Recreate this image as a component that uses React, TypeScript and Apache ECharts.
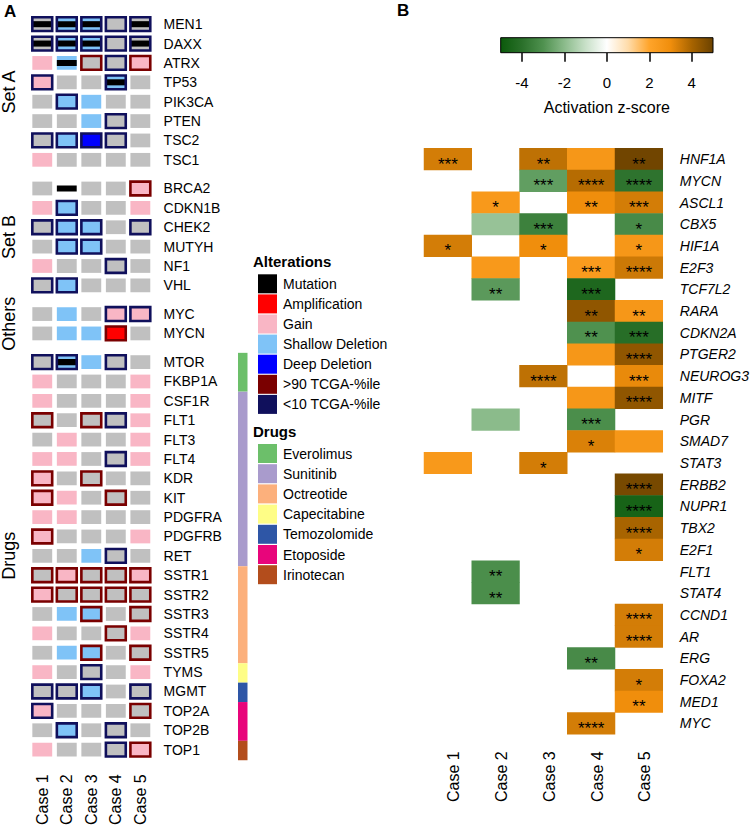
import React, { useEffect, useRef } from 'react';
import * as echarts from 'echarts';

// ---------- Panel A data ----------
const cases = ['Case 1', 'Case 2', 'Case 3', 'Case 4', 'Case 5'];

// codes: fill letter (G gray/no alteration, P gain, L shallow del, D deep del, A amplification, W none)
// + 'h' (>90 TCGA-%ile border) or 'l' (<10 TCGA-%ile border) + 'm' (mutation)
const setAGenes = ['MEN1', 'DAXX', 'ATRX', 'TP53', 'PIK3CA', 'PTEN', 'TSC2', 'TSC1'];
const setACodes = [
  ['Glm', 'Llm', 'Llm', 'Gl', 'Glm'],
  ['Glm', 'Llm', 'Llm', 'Gl', 'Glm'],
  ['P', 'Lm', 'Gh', 'Gl', 'Ph'],
  ['Pl', 'G', 'G', 'Llm', 'G'],
  ['G', 'Ll', 'L', 'G', 'G'],
  ['G', 'G', 'L', 'Gl', 'G'],
  ['Gl', 'Ll', 'Dl', 'Gl', 'G'],
  ['P', 'G', 'G', 'G', 'G'],
];
const setBGenes = ['BRCA2', 'CDKN1B', 'CHEK2', 'MUTYH', 'NF1', 'VHL'];
const setBCodes = [
  ['G', 'Wm', 'G', 'G', 'Ph'],
  ['P', 'Ll', 'G', 'G', 'P'],
  ['Gl', 'Ll', 'Ll', 'G', 'Gl'],
  ['G', 'Ll', 'Ll', 'G', 'G'],
  ['P', 'G', 'G', 'Gl', 'G'],
  ['Gl', 'Ll', 'G', 'G', 'G'],
];
const otherGenes = ['MYC', 'MYCN'];
const otherCodes = [
  ['G', 'L', 'G', 'Pl', 'Pl'],
  ['G', 'L', 'L', 'Ah', 'G'],
];
const drugGenes = ['MTOR', 'FKBP1A', 'CSF1R', 'FLT1', 'FLT3', 'FLT4', 'KDR', 'KIT', 'PDGFRA', 'PDGFRB', 'RET',
  'SSTR1', 'SSTR2', 'SSTR3', 'SSTR4', 'SSTR5', 'TYMS', 'MGMT', 'TOP2A', 'TOP2B', 'TOP1'];
const drugCodes = [
  ['Gl', 'Llm', 'L', 'Gl', 'G'],
  ['P', 'G', 'G', 'G', 'P'],
  ['P', 'G', 'G', 'G', 'P'],
  ['Gh', 'G', 'Gh', 'Gl', 'P'],
  ['G', 'P', 'G', 'G', 'P'],
  ['P', 'P', 'G', 'Gl', 'P'],
  ['Ph', 'G', 'Gh', 'G', 'G'],
  ['Ph', 'P', 'G', 'Gh', 'G'],
  ['P', 'P', 'G', 'G', 'G'],
  ['Ph', 'G', 'G', 'G', 'P'],
  ['G', 'G', 'L', 'Gl', 'G'],
  ['Gh', 'Ph', 'Gh', 'Gh', 'Ph'],
  ['Ph', 'Gh', 'Gh', 'Gh', 'Gh'],
  ['G', 'L', 'Lh', 'G', 'Gh'],
  ['P', 'G', 'G', 'Gh', 'P'],
  ['G', 'L', 'Lh', 'G', 'Gh'],
  ['P', 'G', 'Gl', 'G', 'P'],
  ['Gl', 'Gl', 'Ll', 'G', 'Gl'],
  ['Pl', 'G', 'G', 'G', 'Gh'],
  ['G', 'Ll', 'G', 'Gl', 'G'],
  ['P', 'G', 'G', 'Gl', 'Ph'],
];
const drugOfGene = ['Everolimus', 'Everolimus', 'Sunitinib', 'Sunitinib', 'Sunitinib', 'Sunitinib', 'Sunitinib',
  'Sunitinib', 'Sunitinib', 'Sunitinib', 'Sunitinib', 'Octreotide', 'Octreotide', 'Octreotide', 'Octreotide',
  'Octreotide', 'Capecitabine', 'Temozolomide', 'Etoposide', 'Etoposide', 'Irinotecan'];

const groupNames = ['Set A', 'Set B', 'Others', 'Drugs'];
const groupGenes = [setAGenes, setBGenes, otherGenes, drugGenes];
const groupCodes = [setACodes, setBCodes, otherCodes, drugCodes];

const alterationNames = ['Mutation', 'Amplification', 'Gain', 'Shallow Deletion', 'Deep Deletion', '>90 TCGA-%ile', '<10 TCGA-%ile'];
const alterationColors = ['#000000', '#ff0000', '#f9b6c5', '#7fc3f7', '#0000ff', '#7a0000', '#10105c'];
const noAlterationColor = '#c0c0c0';

const drugNames = ['Everolimus', 'Sunitinib', 'Octreotide', 'Capecitabine', 'Temozolomide', 'Etoposide', 'Irinotecan'];
const drugColors = ['#6cbf6a', '#a99bcc', '#fcb07c', '#fefd86', '#2e56a6', '#e8057b', '#b34d1c'];

// ---------- Panel B data ----------
const genesB = ['HNF1A', 'MYCN', 'ASCL1', 'CBX5', 'HIF1A', 'E2F3', 'TCF7L2', 'RARA', 'CDKN2A', 'PTGER2', 'NEUROG3',
  'MITF', 'PGR', 'SMAD7', 'STAT3', 'ERBB2', 'NUPR1', 'TBX2', 'E2F1', 'FLT1', 'STAT4', 'CCND1', 'AR', 'ERG', 'FOXA2',
  'MED1', 'MYC'];
const n = null;
const zCase1 = [3.4, n, n, n, 3.4, n, n, n, n, n, n, n, n, n, 2.5, n, n, n, n, n, n, n, n, n, n, n, n];
const zCase2 = [n, n, 2.5, -1.8, n, 2.5, -2.8, n, n, n, n, n, -2.0, n, n, n, n, n, n, -3.1, -3.1, n, n, n, n, n, n];
const zCase3 = [3.7, -2.7, n, -3.5, 3.0, n, n, n, n, n, 3.7, n, n, n, 3.4, n, n, n, n, n, n, n, n, n, n, n, n];
const zCase4 = [2.6, 3.8, 3.0, n, n, 2.4, -4.4, 4.4, -3.0, 2.6, n, 2.6, -3.1, 3.3, n, n, n, n, n, n, n, n, n, -3.2, n, n, 3.4];
const zCase5 = [4.9, -3.9, 3.4, -3.2, 2.6, 3.5, n, 2.6, -4.1, 4.4, 3.1, 4.4, n, 2.6, n, 4.8, -4.6, 4.0, 3.4, n, n, 3.4, 3.4, n, 3.4, 3.0, n];
const s = '';
const starsCase1 = ['***', s, s, s, '*', s, s, s, s, s, s, s, s, s, s, s, s, s, s, s, s, s, s, s, s, s, s];
const starsCase2 = [s, s, '*', s, s, s, '**', s, s, s, s, s, s, s, s, s, s, s, s, '**', '**', s, s, s, s, s, s];
const starsCase3 = ['**', '***', s, '***', '*', s, s, s, s, s, '****', s, s, s, '*', s, s, s, s, s, s, s, s, s, s, s, s];
const starsCase4 = [s, '****', '**', s, s, '***', '***', '**', '**', s, s, s, '***', '*', s, s, s, s, s, s, s, s, s, '**', s, s, '****'];
const starsCase5 = ['**', '****', '***', '*', '*', '****', s, '**', '***', '****', '***', '****', s, s, s, '****', '****',
  '****', '*', s, s, '****', '****', s, '*', '**', s];
const zByCase = [zCase1, zCase2, zCase3, zCase4, zCase5];
const starsByCase = [starsCase1, starsCase2, starsCase3, starsCase4, starsCase5];

const zMin = -5;
const zMax = 5;
const zColors = ['#0b5a0b', '#2a702a', '#4f914f', '#8bbb8b', '#c8e0c8', '#ffffff', '#ffdcaa', '#ffa42a', '#f08e0c', '#a86400', '#6b4200'];
const zTicks = [-4, -2, 0, 2, 4];

// ---------- derived structures ----------
const GAP = 0.48;
const rowPos: number[] = [];
const rowNames: string[] = [];
const groupCenters: number[] = [];
type Cell = { c: number; y: number; fill: string; border: string; mut: boolean };
const cellsA: Cell[] = [];
{
  let idx = 0;
  groupGenes.forEach((genes, gi) => {
    const first = idx + gi * GAP;
    genes.forEach((g, k) => {
      const pos = idx + gi * GAP;
      rowPos.push(pos);
      rowNames.push(g);
      groupCodes[gi][k].forEach((t, c) => {
        cellsA.push({
          c,
          y: pos,
          fill: t[0],
          border: t.includes('h') ? 'h' : t.includes('l') ? 'l' : '',
          mut: t.includes('m'),
        });
      });
      idx++;
    });
    const last = idx - 1 + gi * GAP;
    groupCenters.push((first + last) / 2);
  });
}
const drugRowStart = setAGenes.length + setBGenes.length + otherGenes.length;
const drugSegments: number[][] = [];
drugNames.forEach((d, di) => {
  const ks = drugOfGene.map((x, k) => (x === d ? k : -1)).filter((k) => k >= 0);
  if (ks.length) drugSegments.push([0, rowPos[drugRowStart + ks[0]], rowPos[drugRowStart + ks[ks.length - 1]], di]);
});
const yMinA = -0.5;
const yMaxA = rowPos[rowPos.length - 1] + 0.5;

const FILL: Record<string, string> = {
  G: noAlterationColor,
  P: alterationColors[2],
  L: alterationColors[3],
  D: alterationColors[4],
  A: alterationColors[1],
};

const heatData: any[] = [];
zByCase.forEach((arr, c) =>
  arr.forEach((z, r) => {
    if (z !== null) heatData.push([c, r, z, starsByCase[c][r]]);
  })
);

const labelAt = (v: number, positions: number[], names: string[]) => {
  const i = positions.findIndex((p) => Math.abs(p - v) < 1e-6);
  return i >= 0 ? names[i] : '';
};

const FONT = '"Liberation Sans", Arial, Helvetica, sans-serif';

export default function App() {
  const ref = useRef<HTMLDivElement>(null);
  useEffect(() => {
    if (!ref.current) return;
    const chart = echarts.init(ref.current, undefined, { renderer: 'svg' });

    const renderCell = (params: any, api: any) => {
      const cell = cellsA[params.dataIndex];
      const p = api.coord([api.value(0), api.value(1)]);
      const sz = api.size([1, 1]);
      const w = sz[0] * 0.81;
      const h = sz[1] * 0.71;
      const x = p[0] - w / 2;
      const y = p[1] - h / 2;
      const ch: any[] = [];
      if (cell.fill !== 'W') ch.push({ type: 'rect', shape: { x, y, width: w, height: h }, style: { fill: FILL[cell.fill] } });
      if (cell.mut) {
        const mh = h * 0.44;
        ch.push({ type: 'rect', shape: { x, y: p[1] - mh / 2, width: w, height: mh }, style: { fill: alterationColors[0] } });
      }
      if (cell.border)
        ch.push({
          type: 'rect',
          shape: { x, y, width: w, height: h },
          style: { fill: 'none', stroke: cell.border === 'h' ? alterationColors[5] : alterationColors[6], lineWidth: 2.6 },
        });
      return { type: 'group', children: ch };
    };

    const renderDrug = (params: any, api: any) => {
      const a = api.coord([0, api.value(1) - 0.5]);
      const b = api.coord([1, api.value(2) + 0.5]);
      return {
        type: 'rect',
        shape: { x: a[0], y: Math.min(a[1], b[1]), width: b[0] - a[0], height: Math.abs(b[1] - a[1]) },
        style: { fill: drugColors[api.value(3)] },
      };
    };

    const gradStops = zColors.map((c, i) => ({ offset: i / (zColors.length - 1), color: c }));
    const renderBar = (params: any, api: any) => {
      const a = api.coord([api.value(0), 1]);
      const b = api.coord([api.value(1), 0]);
      return {
        type: 'rect',
        shape: { x: a[0], y: a[1], width: b[0] - a[0], height: b[1] - a[1] },
        style: { fill: new echarts.graphic.LinearGradient(0, 0, 1, 0, gradStops), stroke: '#000', lineWidth: 1 },
      };
    };

    const legendGraphics: any[] = [];
    const legX = 258;
    legendGraphics.push({ type: 'text', x: 253, y: 261, style: { text: 'Alterations', font: `bold 15px ${FONT}`, fill: '#000', verticalAlign: 'middle' } });
    alterationNames.forEach((nm, i) => {
      const top = 274.3 + i * 20.1;
      legendGraphics.push({ type: 'rect', shape: { x: legX, y: top, width: 19, height: 19 }, style: { fill: alterationColors[i] } });
      legendGraphics.push({ type: 'text', x: 283, y: top + 9.5, style: { text: nm, font: `14px ${FONT}`, fill: '#000', verticalAlign: 'middle' } });
    });
    legendGraphics.push({ type: 'text', x: 253, y: 431.7, style: { text: 'Drugs', font: `bold 15px ${FONT}`, fill: '#000', verticalAlign: 'middle' } });
    drugNames.forEach((nm, i) => {
      const top = 444 + i * 20.2;
      legendGraphics.push({ type: 'rect', shape: { x: legX, y: top, width: 19, height: 19 }, style: { fill: drugColors[i] } });
      legendGraphics.push({ type: 'text', x: 283, y: top + 9.5, style: { text: nm, font: `14px ${FONT}`, fill: '#000', verticalAlign: 'middle' } });
    });
    legendGraphics.push({ type: 'text', x: 4, y: 3, style: { text: 'A', font: `bold 17px ${FONT}`, fill: '#000' } });
    legendGraphics.push({ type: 'text', x: 397, y: 2, style: { text: 'B', font: `bold 17px ${FONT}`, fill: '#000' } });

    const hidden = { show: false };
    const option: any = {
      animation: false,
      backgroundColor: '#ffffff',
      textStyle: { fontFamily: FONT },
      grid: [
        { left: 27.3, top: 14.5, width: 125.3, height: (yMaxA - yMinA) * 19.4 },
        { left: 238, top: 14.5, width: 9.5, height: (yMaxA - yMinA) * 19.4 },
        { left: 424, top: 148.3, width: 240, height: 586 },
        { left: 500.7, top: 37.7, width: 212.3, height: 15 },
      ],
      xAxis: [
        {
          gridIndex: 0, type: 'category', data: cases, position: 'bottom',
          axisLine: hidden, axisTick: hidden, splitLine: hidden,
          axisLabel: { rotate: 90, fontSize: 16, color: '#000', margin: 15, interval: 0 },
        },
        { gridIndex: 1, type: 'value', min: 0, max: 1, show: false },
        {
          gridIndex: 2, type: 'category', data: cases, position: 'bottom',
          axisLine: hidden, axisTick: hidden, splitLine: hidden,
          axisLabel: {
            rotate: 90, fontSize: 16, color: '#000', margin: 17, interval: 0,
            verticalAlign: 'top', lineHeight: 12,
          },
        },
        {
          gridIndex: 3, type: 'value', min: zMin, max: zMax, position: 'bottom',
          axisLine: hidden, splitLine: hidden,
          axisTick: { show: true, customValues: zTicks, length: 9, lineStyle: { color: '#000', width: 1.5 } },
          axisLabel: { customValues: zTicks, fontSize: 15, color: '#000', margin: 22 },
          name: 'Activation z-score', nameLocation: 'middle', nameGap: 47,
          nameTextStyle: { fontSize: 16, color: '#000' },
        },
      ],
      yAxis: [
        {
          gridIndex: 0, type: 'value', min: yMinA, max: yMaxA, inverse: true, position: 'right',
          axisLine: hidden, axisTick: hidden, splitLine: hidden,
          axisLabel: {
            customValues: rowPos, fontSize: 14, color: '#000', margin: 11,
            formatter: (v: number) => labelAt(v, rowPos, rowNames),
          },
        },
        {
          gridIndex: 0, type: 'value', min: yMinA, max: yMaxA, inverse: true, position: 'left',
          axisLine: hidden, axisTick: hidden, splitLine: hidden,
          axisLabel: {
            customValues: groupCenters, fontSize: 18, color: '#000', margin: 12, rotate: 90,
            formatter: (v: number) => labelAt(v, groupCenters, groupNames),
          },
        },
        { gridIndex: 1, type: 'value', min: yMinA, max: yMaxA, inverse: true, show: false },
        {
          gridIndex: 2, type: 'category', data: genesB, inverse: true, position: 'right',
          axisLine: hidden, axisTick: hidden, splitLine: hidden,
          axisLabel: { fontSize: 14, fontStyle: 'italic', color: '#000', margin: 17, interval: 0 },
        },
        { gridIndex: 3, type: 'value', min: 0, max: 1, show: false },
      ],
      visualMap: {
        type: 'continuous', show: false, min: zMin, max: zMax, dimension: 2, seriesIndex: 2,
        inRange: { color: zColors },
      },
      series: [
        {
          type: 'custom', xAxisIndex: 0, yAxisIndex: 0, renderItem: renderCell,
          data: cellsA.map((c) => [c.c, c.y]), encode: { x: 0, y: 1 }, silent: true,
        },
        {
          type: 'custom', xAxisIndex: 1, yAxisIndex: 2, renderItem: renderDrug,
          data: drugSegments, encode: { x: 0, y: [1, 2] }, silent: true,
        },
        {
          type: 'heatmap', xAxisIndex: 2, yAxisIndex: 3, data: heatData,
          label: {
            show: true, fontSize: 17, color: '#000', offset: [0, 5],
            formatter: (p: any) => p.data[3],
          },
          itemStyle: { borderWidth: 0 },
          emphasis: { disabled: true },
          silent: true,
        },
        {
          type: 'custom', xAxisIndex: 3, yAxisIndex: 4, renderItem: renderBar,
          data: [[zMin, zMax]], encode: { x: [0, 1] }, silent: true,
        },
      ],
      graphic: legendGraphics,
    };
    chart.setOption(option);
    return () => chart.dispose();
  }, []);
  return <div ref={ref} style={{ position: 'fixed', left: 0, top: 0, width: 752, height: 828 }} />;
}
